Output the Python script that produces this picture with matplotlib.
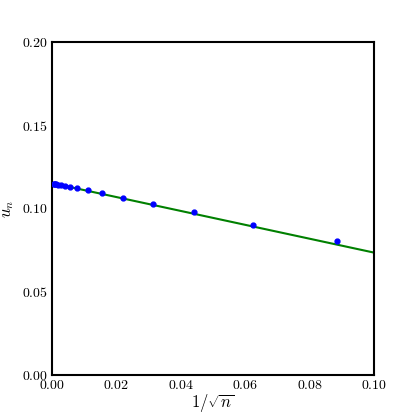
import numpy as np
import matplotlib
matplotlib.use("Agg")
import matplotlib.pyplot as plt

plt.rcParams['mathtext.fontset'] = 'cm'
plt.rcParams['font.family'] = 'serif'
plt.rcParams['font.serif'] = ['cmr10', 'DejaVu Serif']
plt.rcParams['axes.formatter.use_mathtext'] = True

# sample sizes and measured u_n
n_vals = np.array([2**k for k in range(7, 23)])
u_vals = [0.0805, 0.0903, 0.0977, 0.1025, 0.1062, 0.1090, 0.1109,
          0.1122, 0.1131, 0.1137, 0.1141, 0.1144, 0.1146, 0.1148,
          0.1149, 0.1150]

# fitted line endpoints
fit_x = [0.0, 0.1]
fit_y = [0.1152, 0.0735]

fig = plt.figure(figsize=(4.16, 4.16), dpi=100)
ax = fig.add_axes([0.125, 0.0986, 0.774, 0.8005])

ax.plot(fit_x, fit_y, color='green', lw=1.5, zorder=2)
ax.plot(1 / np.sqrt(n_vals), u_vals, 'o', color='blue', ms=3.5, mec='blue', zorder=3)

ax.set_xlim(0, 0.1)
ax.set_ylim(0, 0.2)
ax.set_xticks([0.0, 0.02, 0.04, 0.06, 0.08, 0.10])
ax.set_yticks([0.0, 0.05, 0.10, 0.15, 0.20])
ax.set_xticklabels([f'${v:.2f}$' for v in ax.get_xticks()])
ax.set_yticklabels([f'${v:.2f}$' for v in ax.get_yticks()])
ax.tick_params(length=0, labelsize=10, pad=3)
for s in ax.spines.values():
    s.set_linewidth(1.5)

ax.set_xlabel(r'$1/\sqrt{n}$', fontsize=12, labelpad=0)
ax.set_ylabel(r'$u_n$', fontsize=12, labelpad=4)

fig.savefig('out.png', dpi=100)
